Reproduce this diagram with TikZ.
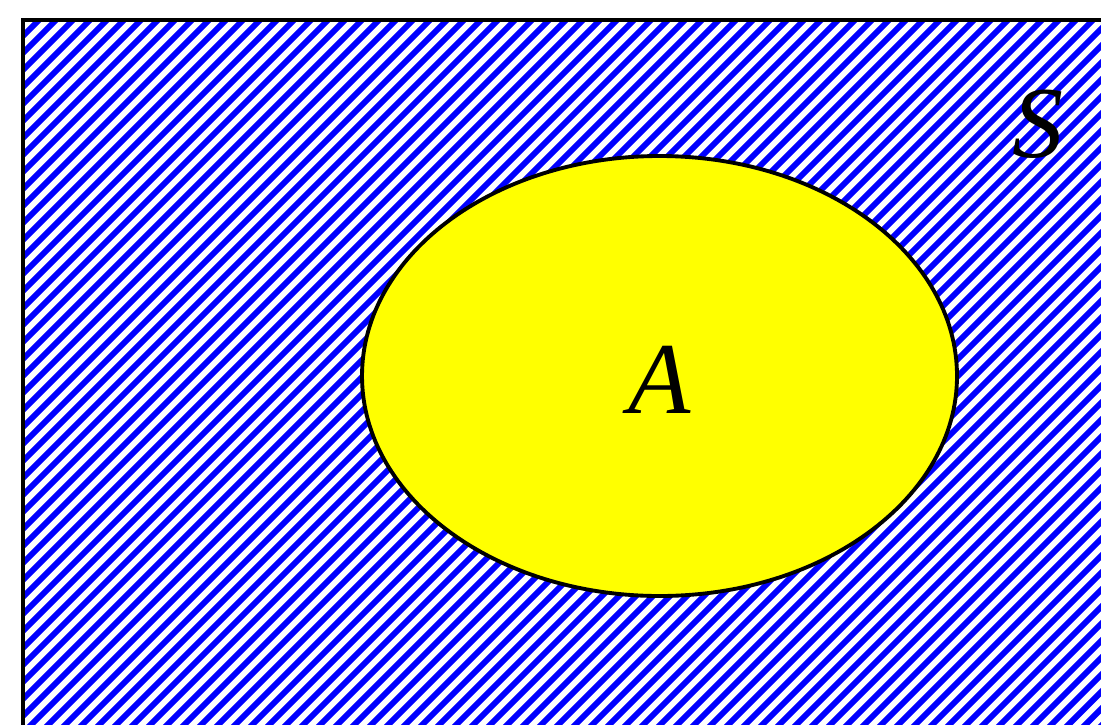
\documentclass[tikz,border=0pt]{standalone}
\usepackage{fontspec}
\setmainfont{Liberation Serif}
\usetikzlibrary{shapes.geometric,positioning}
\definecolor{hatchblue}{RGB}{0,0,255}
\definecolor{setyellow}{RGB}{255,255,0}

\begin{document}
\begin{tikzpicture}[x=1cm,y=1cm,
    every node/.style={font=\fontsize{29}{29}\selectfont\itshape},
    hatchline/.style={hatchblue,line width=1.7pt},
    setA/.style={ellipse,draw,line width=1.1pt,fill=setyellow,minimum width=5.95cm,minimum height=4.4cm}]
  \useasboundingbox (0,0) rectangle (11.01,7.24);
  % universal set with hatching
  \coordinate (sw) at (0.23,-0.2);
  \coordinate (ne) at (11.3,7.04);
  \fill[white] (sw) rectangle (ne);
  \begin{scope}
    \clip (sw) rectangle (ne);
    \foreach \i in {-8,-7.83,...,12}
      \draw[hatchline] (\i,-0.5) -- ++(8,8);
  \end{scope}
  \draw[line width=1.2pt] (sw) rectangle (ne);

  \node[setA] (A) at (6.595,3.48) {};
  \node (labelA) at (6.6,3.44) {A};
  \node (labelS) at (10.38,6.0) {S};
\end{tikzpicture}
\end{document}
